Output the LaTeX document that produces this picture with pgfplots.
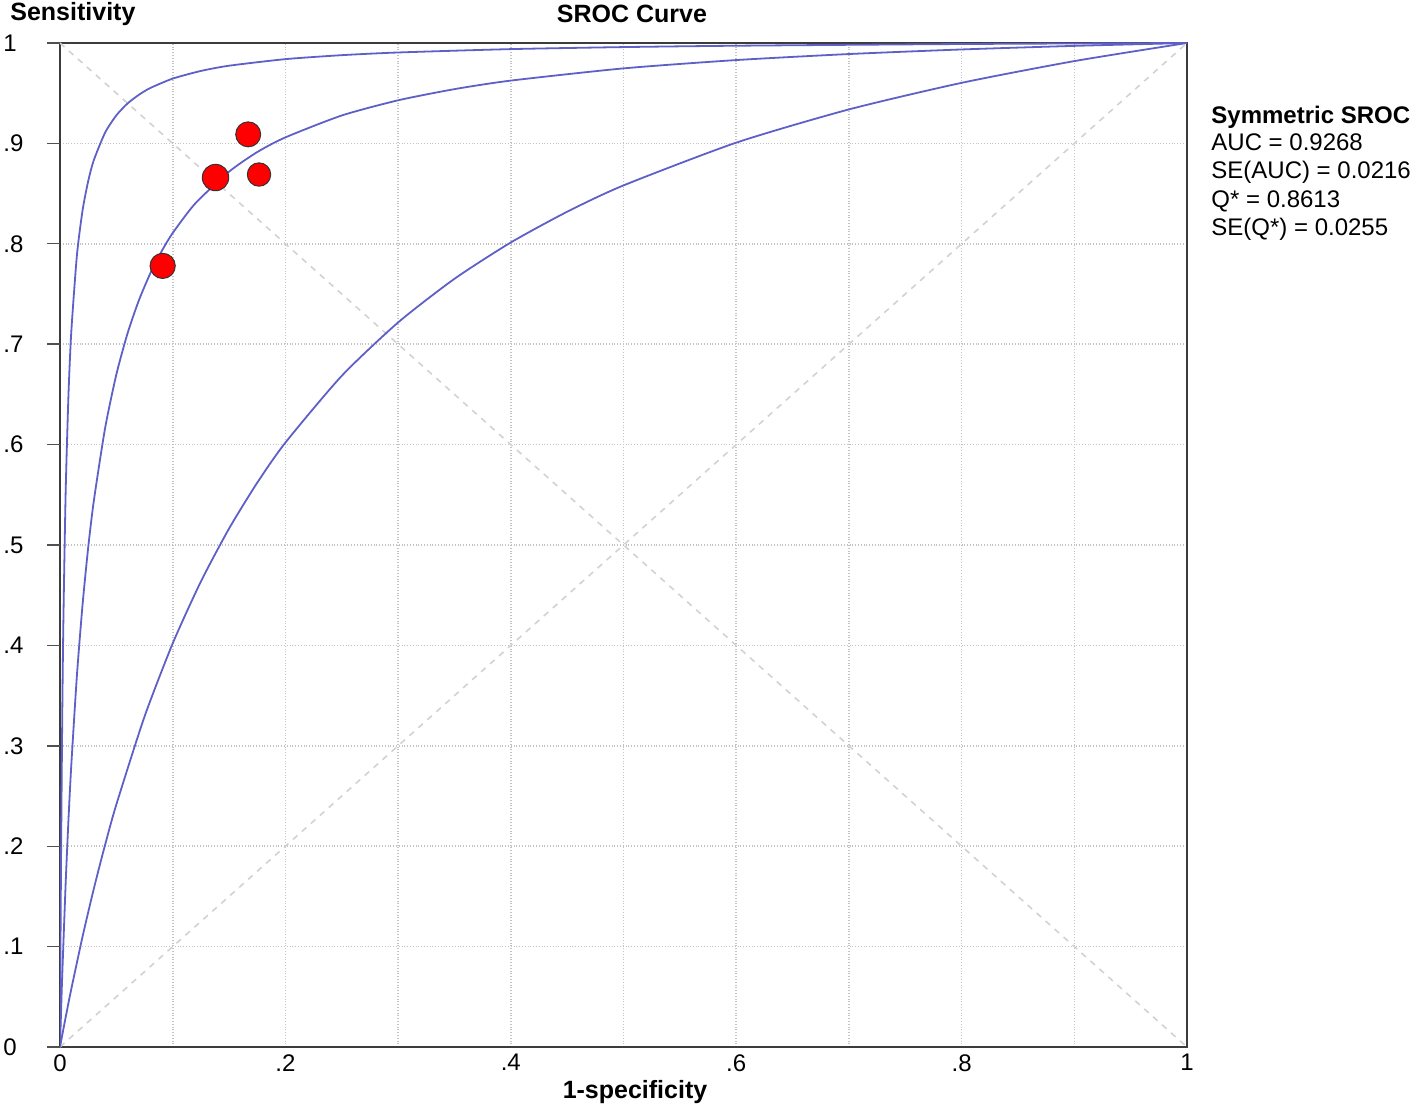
\documentclass[border=0pt]{standalone}
\usepackage{pgfplots}
\pgfplotsset{compat=1.18}
\usepackage{fontspec}
\setmainfont{Liberation Sans}
\definecolor{curveblue}{RGB}{95,95,200}
\definecolor{gridgray}{RGB}{195,195,195}
\definecolor{diaggray}{RGB}{210,210,210}
\definecolor{axisdark}{RGB}{60,60,60}
\definecolor{tickgray}{RGB}{80,80,80}
\begin{document}
\begin{tikzpicture}
\begin{axis}[
  at={(0pt,0pt)}, anchor=south west,
  scale only axis, width=563.5pt, height=502pt,
  xmin=0, xmax=1, ymin=0, ymax=1,
  axis line style={axisdark, line width=1pt},
  xtick={0,0.1,0.2,0.3,0.4,0.5,0.6,0.7,0.8,0.9,1},
  xticklabels={0,,.2,,.4,,.6,,.8,,1},
  ytick={0,0.1,0.2,0.3,0.4,0.5,0.6,0.7,0.8,0.9,1},
  yticklabels={0,.1,.2,.3,.4,.5,.6,.7,.8,.9,1},
  grid=major,
  major grid style={gridgray, densely dotted, line width=0.8pt},
  tick align=outside,
  tick pos=left,
  major tick length=6.5pt,
  tick style={tickgray, line width=0.7pt},
  xtick style={draw=none},
  xticklabel style={font=\fontsize{12}{14}\selectfont, anchor=north, inner sep=0pt, yshift=3pt},
  yticklabel style={font=\fontsize{12}{14}\selectfont, anchor=west, inner sep=0pt, xshift=-22pt},
  /pgf/number format/assume math mode=true,
]
% diagonals
\addplot[diaggray, dashed, line width=0.8pt] coordinates {(0,0) (1,1)};
\addplot[diaggray, dashed, line width=0.8pt] coordinates {(0,1) (1,0)};
% upper CI curve
\addplot[curveblue, line width=0.9pt, smooth, tension=0.4] coordinates {
(0,0) (0.0005,0.10906) (0.001,0.19675) (0.002,0.32903) (0.003,0.42407) (0.005,0.55150)
(0.0075,0.64901) (0.01,0.71196) (0.015,0.78842) (0.02,0.83316) (0.025,0.86235) (0.03,0.88329)
(0.04,0.91068) (0.05,0.92795) (0.06,0.93983) (0.07,0.94840) (0.08,0.95511) (0.1,0.96453)
(0.125,0.97216) (0.15,0.97737) (0.2,0.98392) (0.25,0.98788) (0.3,0.99055) (0.4,0.99391) (0.5,0.99593)
(0.6,0.99728) (0.8,0.99898) (1,1)};
% SROC curve
\addplot[curveblue, line width=0.9pt, smooth, tension=0.4] coordinates {
(0,0) (0.001,0.03716) (0.002,0.07171) (0.005,0.16228) (0.0075,0.22606) (0.01,0.28026) (0.015,0.36990)
(0.02,0.44032) (0.025,0.49729) (0.03,0.54385) (0.04,0.61631) (0.05,0.66985) (0.06,0.71104)
(0.07,0.74370) (0.08,0.77023) (0.09,0.79218) (0.1,0.81073) (0.12,0.84017) (0.15,0.87184) (0.175,0.89136)
(0.2,0.90599) (0.25,0.92780) (0.3,0.94293) (0.35,0.95404) (0.4,0.96255)
(0.5,0.97472) (0.6,0.98300) (0.7,0.98900) (0.8,0.99356) (0.9,0.99713) (1,1)};
% lower CI curve
\addplot[curveblue, line width=0.9pt, smooth, tension=0.4] coordinates {
(0,0) (0.005,0.02951) (0.01,0.05759) (0.02,0.10990) (0.03,0.15762) (0.04,0.20131) (0.05,0.24152)
(0.075,0.32910) (0.1,0.40199) (0.125,0.46360) (0.15,0.51636) (0.175,0.56204) (0.2,0.60199)
(0.25,0.66851) (0.3,0.72167) (0.35,0.76513) (0.4,0.80132) (0.45,0.83193) (0.5,0.85816)
(0.6,0.90074) (0.7,0.93385) (0.8,0.96032) (0.9,0.98197) (1,1)};
% studies
\addplot[only marks, mark=*, mark size=6.25pt, mark options={fill=red, draw=black!80, line width=0.5pt}] coordinates {(0.167,0.909)};
\addplot[only marks, mark=*, mark size=6.6pt, mark options={fill=red, draw=black!80, line width=0.5pt}] coordinates {(0.138,0.866)};
\addplot[only marks, mark=*, mark size=5.85pt, mark options={fill=red, draw=black!80, line width=0.5pt}] coordinates {(0.1766,0.869)};
\addplot[only marks, mark=*, mark size=6.3pt, mark options={fill=red, draw=black!80, line width=0.5pt}] coordinates {(0.0911,0.778)};
\end{axis}
% y-axis tick marks (axis box is 502pt high, at the origin)
\foreach \k in {0,...,10}{
  \draw[tickgray, line width=0.7pt] (-6.5pt,\k*50.2pt) -- (0pt,\k*50.2pt);
}
\pgfresetboundingbox
\path[use as bounding box] (-30pt,-31.5pt) rectangle (679pt,523.5pt);
\node[anchor=west, inner sep=0pt, font=\bfseries\fontsize{12.5}{14}\selectfont] at (-25pt,516.5pt) {Sensitivity};
\node[inner sep=0pt, font=\bfseries\fontsize{12.5}{14}\selectfont] at (286pt,516.5pt) {SROC Curve};
\node[inner sep=0pt, font=\bfseries\fontsize{12.5}{14}\selectfont] at (287.5pt,-22.5pt) {1-specificity};
\node[anchor=base west, inner sep=0pt, font=\bfseries\fontsize{12}{14}\selectfont] at (575.5pt,461.5pt) {Symmetric SROC};
\node[anchor=base west, inner sep=0pt, font=\fontsize{12}{14}\selectfont] at (575.5pt,448pt) {AUC = 0.9268};
\node[anchor=base west, inner sep=0pt, font=\fontsize{12}{14}\selectfont] at (575.5pt,434pt) {SE(AUC) = 0.0216};
\node[anchor=base west, inner sep=0pt, font=\fontsize{12}{14}\selectfont] at (575.5pt,419.5pt) {Q* = 0.8613};
\node[anchor=base west, inner sep=0pt, font=\fontsize{12}{14}\selectfont] at (575.5pt,405.5pt) {SE(Q*) = 0.0255};
\end{tikzpicture}
\end{document}
